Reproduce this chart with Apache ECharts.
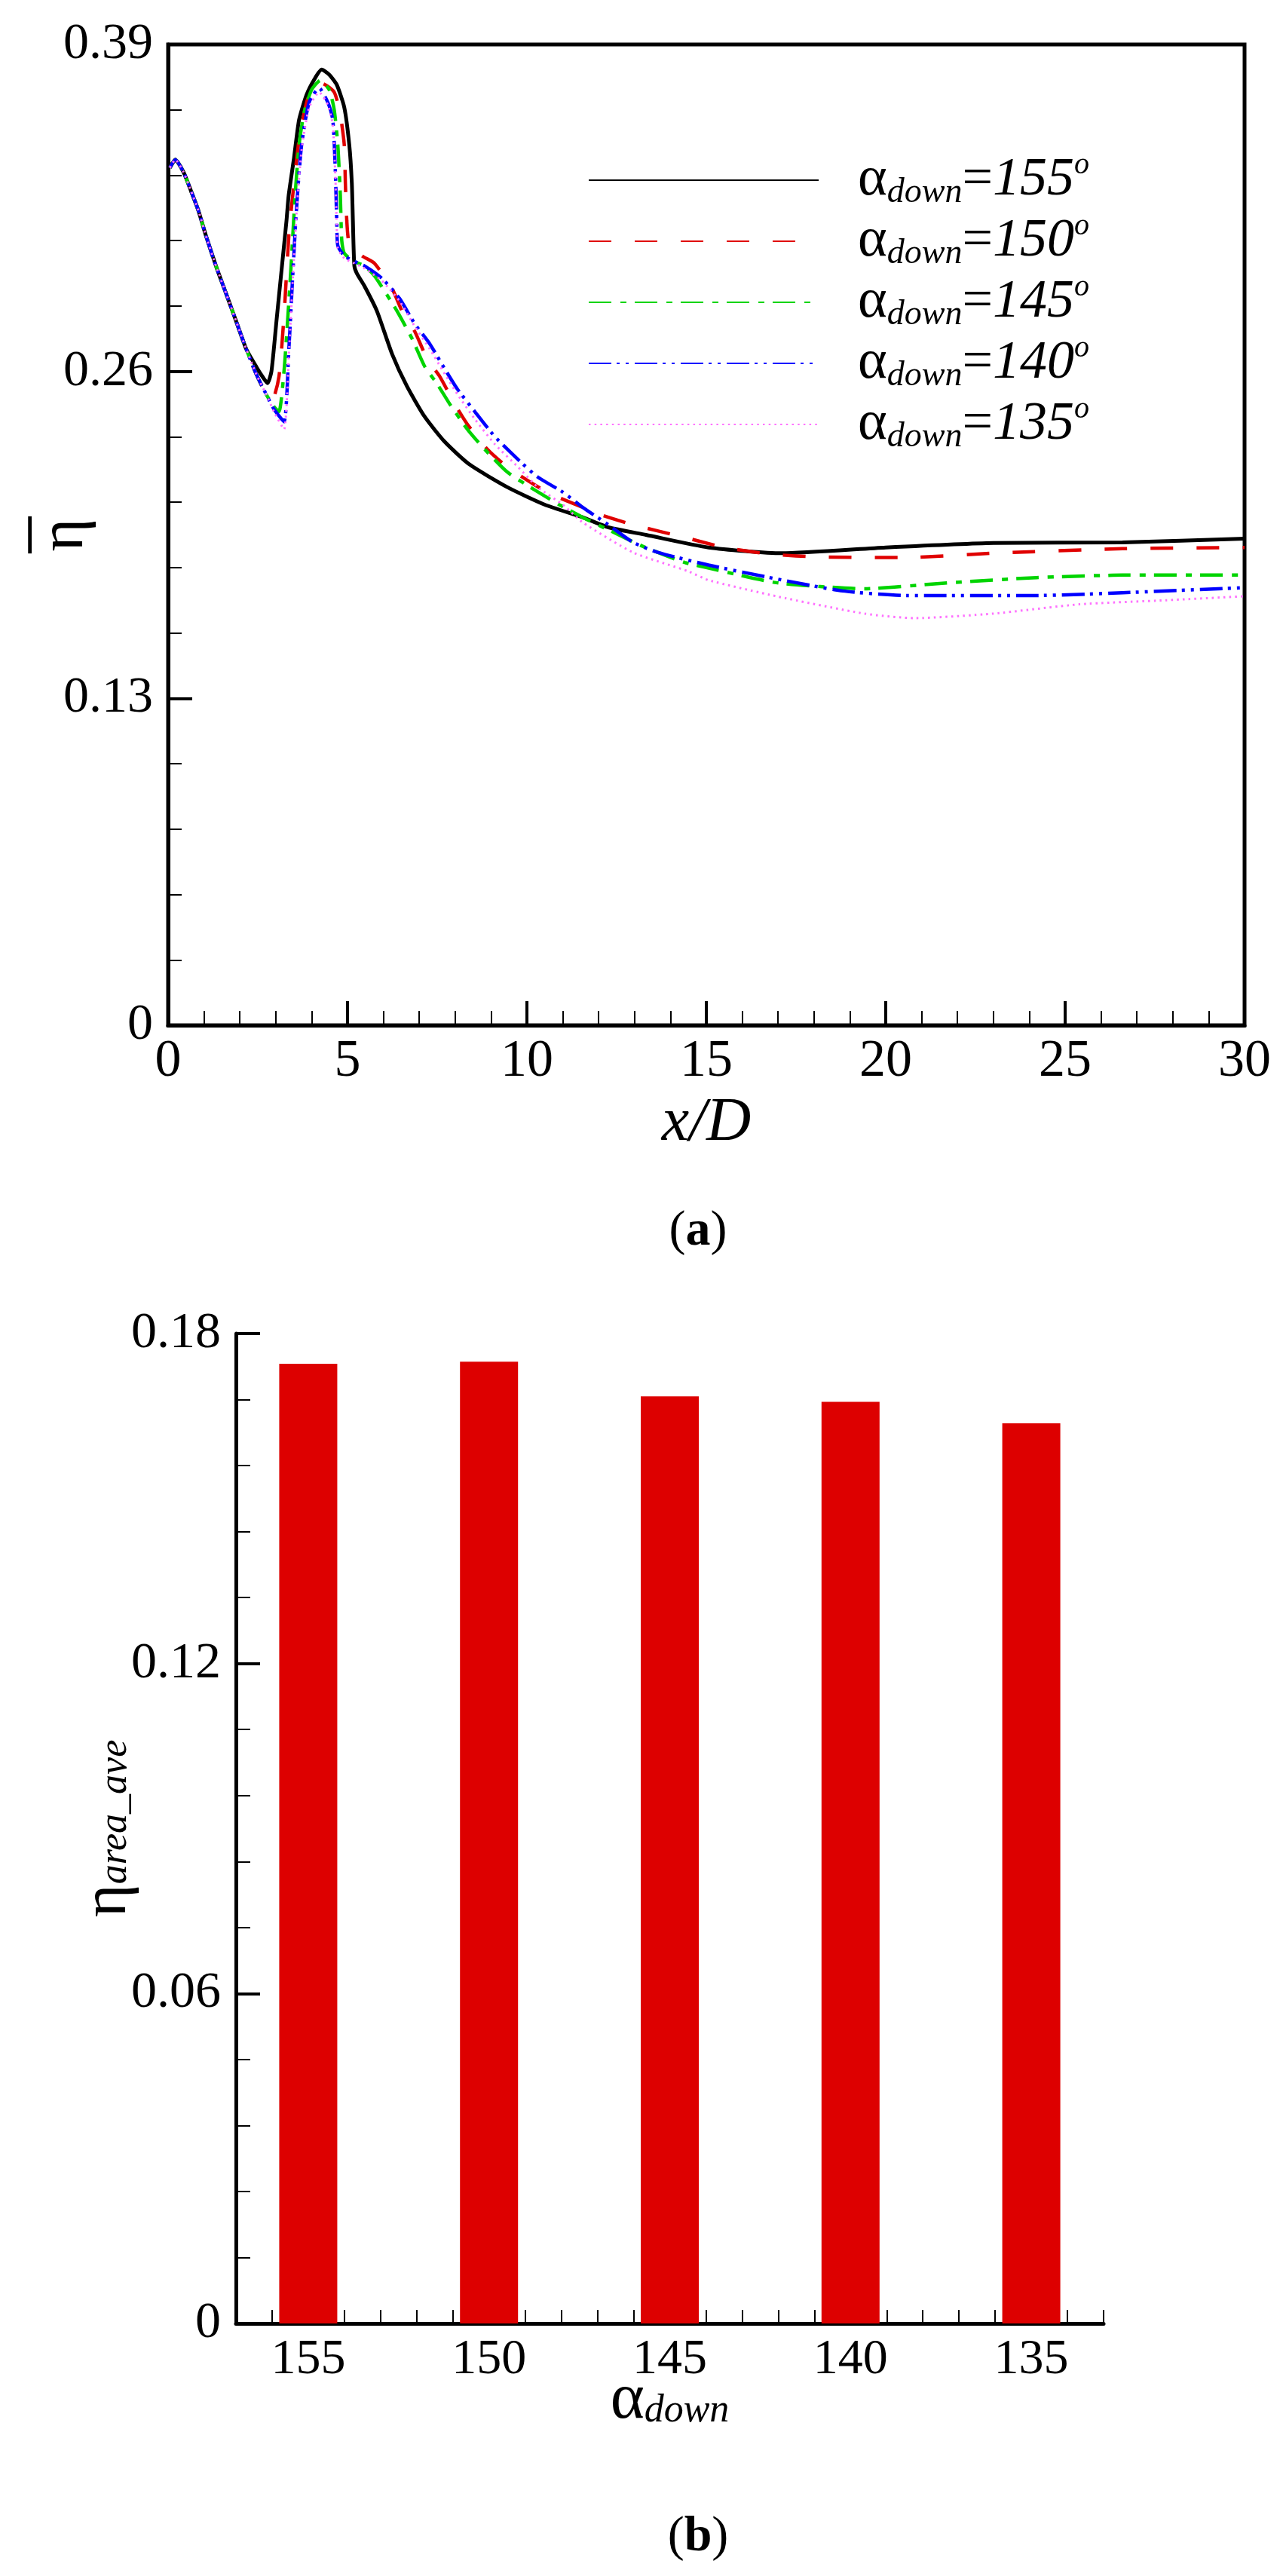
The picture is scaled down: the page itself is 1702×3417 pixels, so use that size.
<!DOCTYPE html>
<html>
<head>
<meta charset="utf-8">
<script src="https://cdn.jsdelivr.net/npm/echarts@6/dist/echarts.min.js"></script>
<style>
  html, body { margin: 0; padding: 0; background: #fff; }
  #main { width: 1702px; height: 3417px; }
</style>
</head>
<body>
<div id="main"></div>
<script>
// (a) spanwise averaged effectiveness along x/D
const eta155 = [[0.05,0.341],[0.20,0.3442],[0.43,0.3392],[0.64,0.3317],[0.85,0.3237],[1.06,0.3137],[1.34,0.3017],[1.62,0.2908],[1.90,0.2798],[2.18,0.2688],[2.46,0.2618],[2.65,0.2575],[2.77,0.2553],[2.88,0.260],[3.02,0.280],[3.16,0.300],[3.30,0.320],[3.36,0.330],[3.51,0.345],[3.65,0.360],[3.86,0.370],[4.07,0.376],[4.28,0.380],[4.49,0.378],[4.70,0.374],[4.91,0.365],[5.05,0.350],[5.12,0.335],[5.15,0.320],[5.19,0.302],[5.26,0.299],[5.47,0.294],[5.82,0.284],[6.24,0.267],[6.66,0.254],[7.15,0.242],[7.71,0.232],[8.40,0.223],[9.45,0.214],[10.5,0.207],[11.55,0.202],[12.27,0.198],[13.32,0.195],[15.06,0.190],[17.1,0.1877],[20.0,0.190],[23.0,0.1918],[26.6,0.192],[30,0.1935]]
const eta150 = [[0.05,0.341],[0.20,0.3442],[0.43,0.3392],[0.64,0.3317],[0.85,0.3237],[1.06,0.3137],[1.34,0.3017],[1.62,0.2908],[1.90,0.2798],[2.18,0.2688],[2.46,0.2588],[2.74,0.2507],[2.91,0.249],[3.09,0.258],[3.23,0.282],[3.37,0.315],[3.51,0.335],[3.65,0.352],[3.86,0.367],[4.05,0.373],[4.28,0.3746],[4.63,0.371],[4.80,0.362],[4.91,0.350],[4.94,0.335],[4.98,0.320],[5.05,0.311],[5.4,0.306],[5.75,0.303],[6.24,0.293],[6.52,0.284],[6.87,0.276],[7.22,0.265],[7.57,0.258],[7.99,0.247],[8.34,0.239],[8.90,0.229],[9.45,0.222],[10.2,0.215],[10.7,0.211],[11.55,0.206],[12.05,0.203],[12.96,0.199],[14.4,0.194],[15.5,0.190],[16.8,0.1873],[18.2,0.1862],[20.6,0.186],[23.0,0.1877],[26.6,0.1895],[30,0.190]]
const eta145 = [[0.05,0.341],[0.20,0.3442],[0.43,0.3392],[0.64,0.3317],[0.85,0.3237],[1.06,0.3137],[1.34,0.3017],[1.62,0.2908],[1.90,0.2798],[2.18,0.2688],[2.46,0.2588],[2.74,0.2507],[2.95,0.246],[3.09,0.244],[3.23,0.260],[3.33,0.280],[3.44,0.305],[3.54,0.330],[3.65,0.350],[3.79,0.363],[4.0,0.372],[4.24,0.3757],[4.49,0.372],[4.63,0.364],[4.73,0.350],[4.80,0.330],[4.84,0.312],[4.91,0.307],[5.19,0.3037],[5.47,0.302],[5.75,0.298],[6.03,0.292],[6.38,0.284],[6.80,0.273],[7.15,0.262],[7.50,0.255],[7.85,0.247],[8.34,0.237],[8.76,0.230],[9.45,0.220],[10.2,0.213],[10.9,0.207],[11.55,0.202],[12.27,0.197],[13.3,0.190],[14.4,0.184],[15.0,0.182],[16.95,0.176],[19.4,0.1736],[21.8,0.176],[24.2,0.178],[26.6,0.179],[30,0.179]]
const eta140 = [[0.05,0.341],[0.20,0.3442],[0.43,0.3392],[0.64,0.3317],[0.85,0.3237],[1.06,0.3137],[1.34,0.3017],[1.62,0.2908],[1.90,0.2798],[2.18,0.2688],[2.46,0.2588],[2.74,0.2507],[2.95,0.245],[3.23,0.240],[3.37,0.270],[3.48,0.300],[3.58,0.325],[3.72,0.350],[3.93,0.367],[4.21,0.3727],[4.45,0.367],[4.59,0.360],[4.66,0.340],[4.70,0.320],[4.73,0.310],[4.91,0.306],[5.19,0.3037],[5.47,0.302],[5.96,0.297],[6.45,0.289],[6.87,0.279],[7.29,0.271],[7.71,0.261],[8.06,0.253],[8.55,0.244],[9.11,0.234],[9.75,0.225],[10.3,0.218],[11.0,0.212],[11.55,0.206],[12.27,0.199],[12.96,0.192],[13.66,0.188],[15.06,0.183],[16.95,0.1775],[18.8,0.1727],[20.6,0.1709],[24.2,0.1709],[26.6,0.172],[30,0.174]]
const eta135 = [[0.05,0.341],[0.20,0.3442],[0.43,0.3392],[0.64,0.3317],[0.85,0.3237],[1.06,0.3137],[1.34,0.3017],[1.62,0.2908],[1.90,0.2798],[2.18,0.2688],[2.46,0.2588],[2.74,0.2507],[2.95,0.244],[3.23,0.237],[3.37,0.268],[3.48,0.298],[3.58,0.323],[3.72,0.348],[3.93,0.365],[4.21,0.371],[4.45,0.366],[4.59,0.358],[4.66,0.338],[4.70,0.318],[4.73,0.309],[4.91,0.305],[5.19,0.303],[5.47,0.301],[5.96,0.296],[6.45,0.288],[6.87,0.278],[7.29,0.269],[7.71,0.259],[8.06,0.251],[8.55,0.241],[9.11,0.231],[9.75,0.222],[10.3,0.214],[11.0,0.207],[11.55,0.200],[12.96,0.188],[14.5,0.1805],[15.06,0.177],[16.95,0.1706],[19.4,0.1637],[20.8,0.1619],[23.0,0.1637],[25.4,0.1674],[27.8,0.169],[30,0.1706]]
const caseAngles = ['155', '150', '145', '140', '135']

// (b) area averaged effectiveness
const barAngles = [155, 150, 145, 140, 135]
const barEta = [0.1745, 0.1749, 0.1686, 0.1676, 0.1637]

const FONT = "'Liberation Serif', 'Times New Roman', serif"
const chart = echarts.init(document.getElementById('main'))

// rich text pieces for the legend labels
const legendRich = {
  a: { fontFamily: FONT, fontSize: 74, lineHeight: 80, color: '#000' },
  s: { fontFamily: FONT, fontStyle: 'italic', fontSize: 46, lineHeight: 24, verticalAlign: 'bottom', color: '#000' },
  e: { fontFamily: FONT, fontSize: 72, lineHeight: 80, color: '#000' },
  n: { fontFamily: FONT, fontStyle: 'italic', fontSize: 72, lineHeight: 80, color: '#000' },
  o: { fontFamily: FONT, fontStyle: 'italic', fontSize: 40, lineHeight: 36, verticalAlign: 'top', color: '#000' }
}

function lineSeries (name, data, color, dash, width) {
  return {
    name: name,
    type: 'line',
    xAxisIndex: 0,
    yAxisIndex: 0,
    data: data,
    symbol: 'none',
    smooth: 0.2,
    lineStyle: { color: color, width: width, type: dash },
    itemStyle: { color: color },
    animation: false
  }
}

chart.setOption({
  backgroundColor: '#fff',
  grid: [
    { left: 223, top: 59, width: 1428, height: 1301, outerBoundsMode: 'none', show: true, borderColor: '#000', borderWidth: 5 },
    { left: 313, top: 1769, width: 1151, height: 1313, outerBoundsMode: 'none' }
  ],
  legend: {
    orient: 'vertical',
    left: 775,
    top: 194,
    itemWidth: 305,
    itemHeight: 1,
    itemGap: 1,
    itemStyle: { opacity: 0 },
    data: caseAngles,
    formatter: name => '{a|α}{s|down}{e|=}{n|' + name + '}{o|o}',
    textStyle: { color: '#000', padding: [0, 0, 0, 47], rich: legendRich }
  },
  xAxis: [
    {
      gridIndex: 0,
      type: 'value',
      min: 0,
      max: 30,
      interval: 5,
      axisLine: { lineStyle: { color: '#000', width: 5 } },
      axisTick: { inside: true, length: 32, lineStyle: { color: '#000', width: 4 } },
      minorTick: { show: true, splitNumber: 5, length: 19, lineStyle: { color: '#000', width: 2 } },
      splitLine: { show: false },
      axisLabel: { color: '#000', fontFamily: FONT, fontSize: 70, margin: 14 },
      name: 'x/D',
      nameLocation: 'middle',
      nameGap: 90,
      nameMoveOverlap: false,
      nameTextStyle: { color: '#000', fontFamily: FONT, fontStyle: 'italic', fontSize: 82, lineHeight: 80 }
    },
    {
      gridIndex: 1,
      type: 'value',
      position: 'bottom',
      min: 133,
      max: 157,
      interval: 1,
      inverse: true,
      axisLine: { lineStyle: { color: '#000', width: 5 } },
      axisTick: { inside: true, length: 18, lineStyle: { color: '#000', width: 2 } },
      axisLabel: { show: false },
      splitLine: { show: false }
    },
    {
      gridIndex: 1,
      type: 'value',
      position: 'bottom',
      min: 133,
      max: 157,
      inverse: true,
      axisLine: { show: false },
      axisTick: { inside: true, length: 33, customValues: barAngles, lineStyle: { color: '#000', width: 4 } },
      axisLabel: { customValues: barAngles, color: '#000', fontFamily: FONT, fontSize: 66, margin: 16 },
      splitLine: { show: false },
      name: '{a|α}{s|down}',
      nameLocation: 'middle',
      nameGap: 62,
      nameMoveOverlap: false,
      nameTextStyle: {
        rich: {
          a: { fontFamily: FONT, fontSize: 86, lineHeight: 80, color: '#000' },
          s: { fontFamily: FONT, fontStyle: 'italic', fontSize: 52, lineHeight: 30, verticalAlign: 'bottom', color: '#000' }
        }
      }
    }
  ],
  yAxis: [
    {
      gridIndex: 0,
      type: 'value',
      min: 0,
      max: 0.39,
      interval: 0.13,
      axisLine: { show: true, lineStyle: { color: '#000', width: 5 } },
      axisTick: { show: true, inside: true, length: 32, lineStyle: { color: '#000', width: 4 } },
      minorTick: { show: true, splitNumber: 5, length: 18, lineStyle: { color: '#000', width: 2 } },
      splitLine: { show: false },
      axisLabel: { color: '#000', fontFamily: FONT, fontSize: 68, margin: 20 },
      // overbar drawn as its own line so it sits above the rotated eta
      name: '{bar|–}\n{eta|η}',
      nameLocation: 'middle',
      nameRotate: 90,
      nameGap: 96,
      nameMoveOverlap: false,
      nameTextStyle: {
        rich: {
          bar: { fontFamily: FONT, fontSize: 96, lineHeight: 20, color: '#000' },
          eta: { fontFamily: FONT, fontSize: 84, lineHeight: 80, color: '#000' }
        }
      }
    },
    {
      gridIndex: 1,
      type: 'value',
      min: 0,
      max: 0.18,
      interval: 0.06,
      axisLine: { show: true, lineStyle: { color: '#000', width: 5 } },
      axisTick: { show: true, inside: true, length: 32, lineStyle: { color: '#000', width: 4 } },
      minorTick: { show: true, splitNumber: 5, length: 19, lineStyle: { color: '#000', width: 2 } },
      splitLine: { show: false },
      axisLabel: { color: '#000', fontFamily: FONT, fontSize: 68, margin: 20 },
      name: '{e|η}{s|area_ave}',
      nameLocation: 'middle',
      nameRotate: 90,
      nameGap: 134,
      nameMoveOverlap: false,
      nameTextStyle: {
        rich: {
          e: { fontFamily: FONT, fontSize: 84, lineHeight: 70, color: '#000' },
          s: { fontFamily: FONT, fontStyle: 'italic', fontSize: 52, lineHeight: 30, verticalAlign: 'bottom', color: '#000' }
        }
      }
    }
  ],
  graphic: [
    {
      type: 'text',
      x: 926,
      y: 1634,
      style: {
        text: '({b|a})',
        fill: '#000',
        fontFamily: FONT,
        fontSize: 66,
        align: 'center',
        verticalAlign: 'middle',
        rich: { b: { fontFamily: FONT, fontSize: 66, fontWeight: 'bold' } }
      }
    },
    {
      type: 'text',
      x: 926,
      y: 3366,
      style: {
        text: '({b|b})',
        fill: '#000',
        fontFamily: FONT,
        fontSize: 66,
        align: 'center',
        verticalAlign: 'middle',
        rich: { b: { fontFamily: FONT, fontSize: 66, fontWeight: 'bold' } }
      }
    }
  ],
  series: [
    lineSeries('155', eta155, '#000000', 'solid', 5),
    lineSeries('150', eta150, '#e00000', [30, 31], 4.5),
    lineSeries('145', eta145, '#00d400', [30, 12, 8, 11], 4.5),
    lineSeries('140', eta140, '#0000ff', [30, 7, 4, 8, 4, 8], 4.5),
    lineSeries('135', eta135, '#ff70ff', [2.5, 5.2], 3),
    {
      name: 'area_ave',
      type: 'bar',
      xAxisIndex: 1,
      yAxisIndex: 1,
      barWidth: 77,
      data: barAngles.map((a, i) => [a, barEta[i]]),
      itemStyle: { color: '#dd0000' },
      animation: false
    }
  ]
})
</script>
</body>
</html>
